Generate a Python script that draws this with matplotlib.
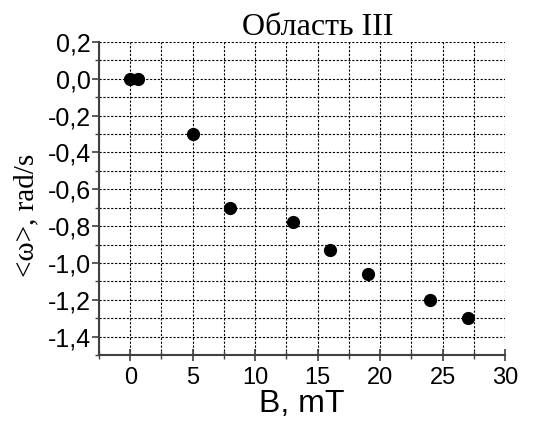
import matplotlib
matplotlib.use("Agg")
import matplotlib.pyplot as plt
from matplotlib.ticker import MultipleLocator, FuncFormatter

# data
field_mT = [0, 0.6, 5, 8, 13, 16, 19, 24, 27]
omega_mean = [0.0, 0.0, -0.30, -0.70, -0.78, -0.93, -1.06, -1.20, -1.30]

x_ticks = [0, 5, 10, 15, 20, 25, 30]

fig = plt.figure(figsize=(5.42, 4.24), dpi=100)
ax = fig.add_axes([99 / 542, 1 - 355 / 424, 406 / 542, 313 / 424])

ax.plot(field_mT, omega_mean, "o", color="black", markersize=8.5, zorder=3)

ax.set_xlim(-2.5, 30)
ax.set_ylim(-1.5, 0.2)
ax.set_xticks(x_ticks)
ax.xaxis.set_minor_locator(MultipleLocator(2.5))
ax.yaxis.set_major_locator(MultipleLocator(0.2))
ax.yaxis.set_minor_locator(MultipleLocator(0.1))
ax.yaxis.set_major_formatter(FuncFormatter(lambda v, p: f"{v:.1f}".replace(".", ",").replace("-0,0", "0,0")))

ax.grid(which="both", color="black", linestyle=(0, (2, 1.5)), linewidth=0.8)
ax.set_axisbelow(True)

for s in ("top", "right"):
    ax.spines[s].set_visible(False)
for s in ("left", "bottom"):
    ax.spines[s].set_color("#404040")
    ax.spines[s].set_linewidth(1.5)

ax.tick_params(axis="y", which="major", direction="out", length=5, width=1.2,
               color="#404040", labelsize=18, pad=1)
ax.tick_params(axis="y", which="minor", direction="out", length=3, width=1.0, color="#404040")
ax.tick_params(axis="x", which="major", direction="inout", length=8, width=1.2,
               color="#404040", labelsize=17, pad=5)
ax.tick_params(axis="x", which="minor", direction="inout", length=6, width=1.0, color="#404040")
for lab in ax.get_xticklabels() + ax.get_yticklabels():
    lab.set_family("Liberation Sans")

ax.set_xlabel("B, mT", family="Liberation Sans", fontsize=23)
ax.xaxis.set_label_coords(0.5, -0.11)
ax.set_ylabel("<ω>, rad/s", family="Liberation Serif", fontsize=21)
ax.yaxis.set_label_coords(-0.148, 0.445)
ax.set_title("Область III", family="Liberation Serif", fontsize=23, x=0.54, pad=3)

fig.savefig("out.png", dpi=100)
